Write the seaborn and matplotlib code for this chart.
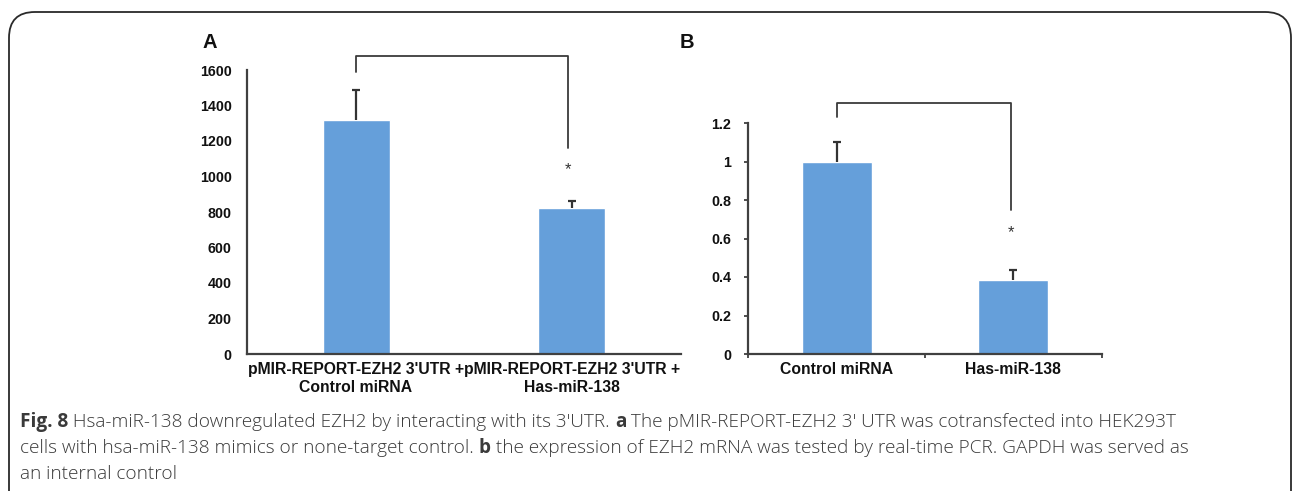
import matplotlib
matplotlib.use("Agg")
import matplotlib.pyplot as plt
import seaborn as sns
import pandas as pd
from matplotlib.patches import FancyBboxPatch

# ---- data ----
groups_a = ["pMIR-REPORT-EZH2 3'UTR +\nControl miRNA", "pMIR-REPORT-EZH2 3'UTR +\nHas-miR-138"]
values_a = [1320, 822]
errors_a = [170, 40]
yticks_a = [0, 200, 400, 600, 800, 1000, 1200, 1400, 1600]

groups_b = ["Control miRNA", "Has-miR-138"]
values_b = [1.0, 0.385]
errors_b = [0.10, 0.05]
yticks_b = [0, 0.2, 0.4, 0.6, 0.8, 1.0, 1.2]
yticklabels_b = ["0", "0.2", "0.4", "0.6", "0.8", "1", "1.2"]

caption_lines = [
    [("Fig. 8", True), (" Hsa-miR-138 downregulated EZH2 by interacting with its 3\u2032UTR. ", False), ("a", True),
     (" The pMIR-REPORT-EZH2 3\u2032 UTR was cotransfected into HEK293T", False)],
    [("cells with hsa-miR-138 mimics or none-target control. ", False), ("b", True),
     (" the expression of EZH2 mRNA was tested by real-time PCR. GAPDH was served as", False)],
    [("an internal control", False)],
]

BAR = "#659FDA"
DARK = "#333333"
W, H = 1293, 491

sns.set_theme(style="white")
plt.rcParams["font.family"] = ["Liberation Sans", "DejaVu Sans"]

fig = plt.figure(figsize=(W / 100, H / 100), dpi=100)


def px_axes(x0, x1, ytop, ybot):
    return fig.add_axes([x0 / W, 1 - ybot / H, (x1 - x0) / W, (ybot - ytop) / H])


def style_axis(ax):
    for s in ["top", "right"]:
        ax.spines[s].set_visible(False)
    for s in ["left", "bottom"]:
        ax.spines[s].set_color("#404040")
        ax.spines[s].set_linewidth(1.6)
    ax.set_xlabel("")
    ax.set_ylabel("")
    ax.set_facecolor("none")


def errbars(ax, vals, errs):
    _, caps, _ = ax.errorbar([0, 1], vals, yerr=[[0, 0], errs], fmt="none", ecolor=DARK,
                             elinewidth=1.6, capsize=3, capthick=1.6, zorder=1)
    caps[0].set_visible(False)


def bracket(ax, x0, x1, yl, ytop, yr, ystar):
    ax.plot([x0, x0, x1, x1], [yl, ytop, ytop, yr], color="#3a3a3a", lw=1.3, clip_on=False)
    ax.text(x1, ystar, "*", ha="center", va="center", fontsize=12, color="#333", clip_on=False)


# ---- Panel A ----
axA = px_axes(247, 681, 70, 354)
dfA = pd.DataFrame({"group": groups_a, "value": values_a})
sns.barplot(data=dfA, x="group", y="value", color=BAR, saturation=1, width=0.31,
            errorbar=None, ax=axA)
errbars(axA, values_a, errors_a)
axA.set_xlim(-0.505, 1.505)
axA.set_ylim(0, 1600)
axA.set_yticks(yticks_a)
axA.set_yticklabels([str(v) for v in yticks_a])
style_axis(axA)
axA.tick_params(axis="y", length=0, pad=11, labelsize=10.3)
axA.tick_params(axis="x", length=0, pad=6, labelsize=11.3)
for t in axA.get_yticklabels() + axA.get_xticklabels():
    t.set_fontweight("bold")
    t.set_color("#111")
bracket(axA, 0, 0.98, 1589, 1679, 1161, 1037)

# ---- Panel B ----
axB = px_axes(748, 1102, 123, 354)
dfB = pd.DataFrame({"group": groups_b, "value": values_b})
sns.barplot(data=dfB, x="group", y="value", color=BAR, saturation=1, width=0.40,
            errorbar=None, ax=axB)
errbars(axB, values_b, errors_b)
axB.set_xlim(-0.505, 1.505)
axB.set_ylim(0, 1.2)
axB.set_yticks(yticks_b)
axB.set_yticklabels(yticklabels_b)
style_axis(axB)
axB.set_xticks([-0.505, 0.5, 1.505], minor=True)
axB.tick_params(axis="y", length=3, width=1.3, color="#404040", pad=9, labelsize=10.3, left=True)
axB.tick_params(axis="x", which="major", length=0, pad=6, labelsize=11.3)
axB.tick_params(axis="x", which="minor", length=3, width=1.3, color="#404040", bottom=True)
for t in axB.get_yticklabels() + axB.get_xticklabels():
    t.set_fontweight("bold")
    t.set_color("#111")
bracket(axB, 0, 0.99, 1.231, 1.304, 0.748, 0.629)

# ---- panel letters ----
fig.text(210 / W, 1 - 42 / H, "A", ha="center", va="center", fontsize=14.5, fontweight="bold", color="#111")
fig.text(687 / W, 1 - 42 / H, "B", ha="center", va="center", fontsize=14.5, fontweight="bold", color="#111")

# ---- border ----
border = FancyBboxPatch((9 / W, -0.2), (1291 - 9) / W, 1 - 12 / H + 0.2,
                        boxstyle="round,pad=0,rounding_size=0.02", transform=fig.transFigure,
                        fill=False, edgecolor="#2a2a2a", lw=1.3, mutation_aspect=W / H)
fig.patches.append(border)

# ---- caption ----
fig.canvas.draw()
renderer = fig.canvas.get_renderer()
cap_size = 13.7
line_y = [422, 448, 474]
for ys, pieces in zip(line_y, caption_lines):
    x = 20
    for txt, bold in pieces:
        t = fig.text(x / W, 1 - ys / H, txt, ha="left", va="center", fontsize=cap_size,
                     family=["Open Sans", "DejaVu Sans"], fontweight="bold" if bold else "light",
                     color="#3a3a3a")
        bb = t.get_window_extent(renderer=renderer)
        x += bb.width

fig.savefig("out.png", dpi=100)
